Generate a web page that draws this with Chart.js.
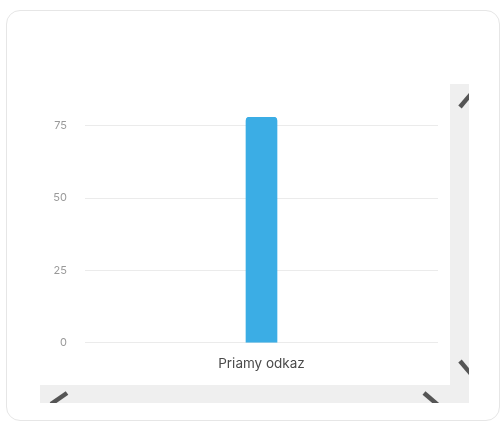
<!DOCTYPE html>
<html>
<head>
<meta charset="utf-8">
<script src="https://cdn.jsdelivr.net/npm/chart.js@4/dist/chart.umd.min.js"></script>
<style>
  html, body { margin: 0; padding: 0; background: #fff; width: 500px; height: 423px; overflow: hidden; }
  .card {
    position: absolute; left: 6px; top: 10px; width: 494px; height: 411px;
    border: 1px solid #e6e6e6; border-radius: 14px; box-sizing: border-box; background: #fff;
  }
  .frame {
    position: absolute; left: 40px; top: 84px; width: 429px; height: 319px;
    background: #efefef; overflow: hidden;
  }
  .frame svg { position: absolute; left: 0; top: 0; }
  .plot {
    position: absolute; left: 0; top: 0; width: 410px; height: 301px; background: #fff;
  }
</style>
</head>
<body>
<div class="card"></div>
<div class="frame">
  <svg width="429" height="319">
    <g stroke="#555" stroke-width="4.5">
      <line x1="420" y1="23" x2="431" y2="10"/>
      <line x1="420" y1="277" x2="431" y2="290"/>
      <line x1="384" y1="309" x2="398" y2="321"/>
      <line x1="11" y1="320" x2="27" y2="309"/>
    </g>
  </svg>
  <div class="plot"><canvas id="chart"></canvas></div>
</div>
<script>
// kategórie a hodnoty
const categories = ['Priamy odkaz'];
const visits = [78];
const yTicks = [0, 25, 50, 75];

const barColor = '#3badE5';
const gridColor = '#ebebeb';

Chart.defaults.font.family = "Inter, sans-serif";

new Chart(document.getElementById('chart'), {
  type: 'bar',
  data: {
    labels: categories,
    datasets: [{
      data: visits,
      backgroundColor: barColor,
      borderRadius: { topLeft: 4, topRight: 4 },
      borderSkipped: 'bottom',
      barThickness: 31
    }]
  },
  options: {
    responsive: true,
    maintainAspectRatio: false,
    animation: false,
    layout: { padding: { left: 14, right: 12, top: 33, bottom: 0 } },
    plugins: {
      legend: { display: false },
      tooltip: { enabled: false }
    },
    scales: {
      x: {
        grid: { display: false, drawTicks: false },
        border: { display: false },
        ticks: { color: '#4a4a4a', font: { size: 13.5 }, padding: 13 },
        afterFit: (scale) => { scale.paddingLeft = 0; scale.paddingRight = 0; }
      },
      y: {
        min: 0,
        max: Math.max(...visits),
        afterBuildTicks: (axis) => {
          axis.ticks = yTicks.map(v => ({ value: v }));
        },
        afterFit: (scale) => { scale.width = 31; },
        grid: { color: gridColor, drawTicks: false },
        border: { display: false },
        ticks: { color: '#999', font: { size: 11 }, padding: 18 }
      }
    }
  }
});
</script>
</body>
</html>
